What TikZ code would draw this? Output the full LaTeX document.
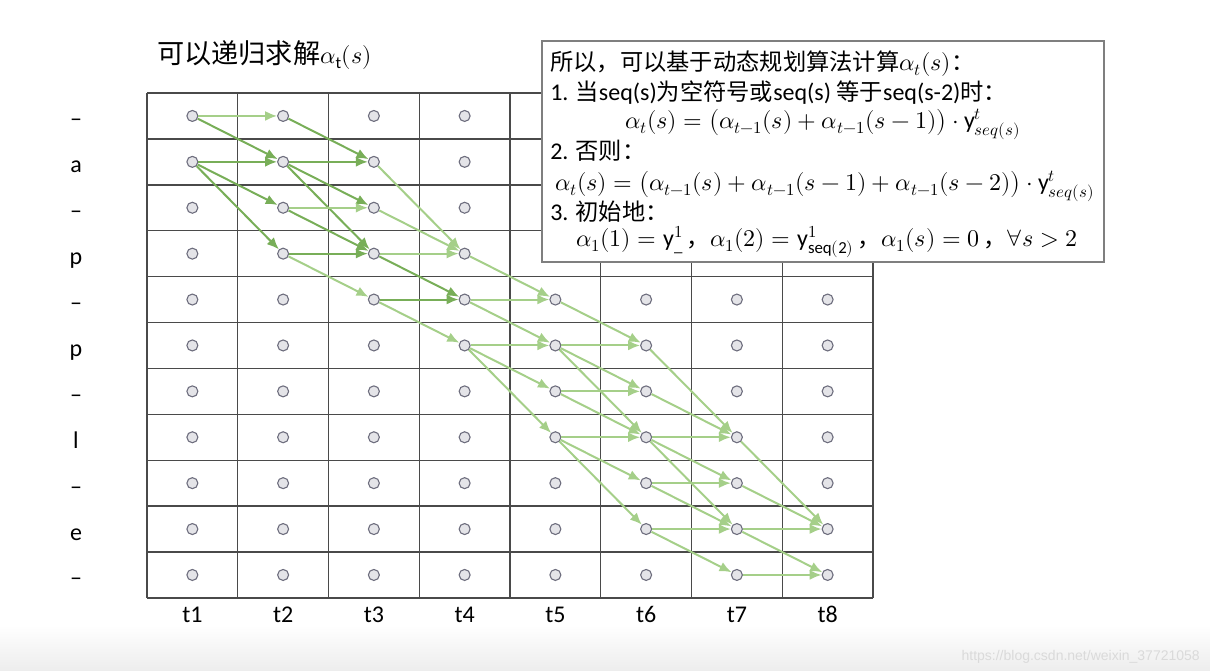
\documentclass[tikz,border=0pt]{standalone}
\usepackage{amsmath}
\usepackage{fontspec}
\usepackage{unicode-math}
\setmainfont{Carlito}
\setmathfont{Latin Modern Math}
\newfontfamily\cjk[Scale=0.97]{Noto Sans CJK SC}
\newfontfamily\markfont{Liberation Sans}
\usetikzlibrary{arrows.meta,positioning,calc}
\definecolor{gridline}{HTML}{4A4A4A}
\definecolor{dotfill}{HTML}{E4E4E8}
\definecolor{dotrim}{HTML}{6E6E7E}
\definecolor{edgedark}{HTML}{78AE58}
\definecolor{edgelight}{HTML}{A5CF89}
\definecolor{boxrim}{HTML}{7F7F7F}
\definecolor{markgray}{HTML}{DADADA}
\tikzset{
    >={Latex[length=12pt,width=10pt]},
    every picture/.style={line width=0.5pt},
    dot/.style={circle,draw=dotrim,fill=dotfill,line width=1.1pt,minimum size=11pt,inner sep=0pt},
    edge1/.style={->,draw=edgedark,line width=2pt},
    edge2/.style={->,draw=edgelight,line width=2pt},
    lbl/.style={font=\fontsize{24}{28}\selectfont,inner sep=0pt,anchor=base},
    txt/.style={font=\fontsize{24}{28}\selectfont,inner sep=0pt,anchor=base west}
}

\begin{document}
\begin{tikzpicture}[x=1pt,y=-1pt]
    \useasboundingbox (0,0) rectangle (1210,670);
    \shade[top color=white,bottom color=black!7] (0,625) rectangle (1210,670);

    % Title
    \node[anchor=base west,inner sep=0pt,font=\fontsize{28}{32}\selectfont] (title) at (157,63)
        {{\cjk 可以递归求解}{\fontsize{24}{28}\selectfont$\alpha_{\mathrm{t}}(s)$}};

    % Grid
    \foreach \i in {0,...,8}
        \draw[gridline,line width=1.4pt] ({147+90.75*\i},93) -- ({147+90.75*\i},598);
    \foreach \j in {0,...,11}
        \draw[gridline,line width=1.4pt] (147,{93+45.9*\j}) -- (873,{93+45.9*\j});

    % States
    \foreach \t in {1,...,8}
        \foreach \s in {1,...,11}
            \node[dot] (n\s-\t) at ({147+90.75*(\t-0.5)},{93+45.9*(\s-0.5)}) {};

    % Labels
    \foreach \l [count=\s] in {–,a,–,p,–,p,–,l,–,e,–}
        \node[lbl] (row\s) at (76,{93+45.9*(\s-0.5)+11}) {\l};
    \foreach \t in {1,...,8}
        \node[lbl] (col\t) at ({147+90.75*(\t-0.5)},622) {t\t};

    % Transitions
    \foreach \s/\t/\u/\v in {1/1/2/2, 2/1/2/2, 2/1/3/2, 2/1/4/2, 1/2/2/3, 2/2/2/3,
            2/2/3/3, 2/2/4/3, 3/2/4/3, 4/2/4/3, 4/3/5/4, 5/3/5/4}
        \draw[edge1] (n\s-\t) -- (n\u-\v);
    \foreach \s/\t/\u/\v in {1/1/1/2, 3/2/3/3, 4/2/5/3, 2/3/4/4, 3/3/4/4, 4/3/4/4,
            5/3/6/4, 4/4/5/5, 5/4/5/5, 5/4/6/5, 6/4/6/5, 6/4/7/5, 6/4/8/5,
            5/5/6/6, 6/5/6/6, 6/5/7/6, 6/5/8/6, 7/5/7/6, 7/5/8/6, 8/5/8/6,
            8/5/9/6, 8/5/10/6, 6/6/8/7, 7/6/8/7, 8/6/8/7, 8/6/9/7, 8/6/10/7,
            9/6/9/7, 9/6/10/7, 10/6/10/7, 10/6/11/7, 8/7/10/8, 9/7/10/8,
            10/7/10/8, 10/7/11/8, 11/7/11/8}
        \draw[edge2] (n\s-\t) -- (n\u-\v);

    % Recursion box
    \node[draw=boxrim,fill=white,line width=1.5pt,minimum width=562pt,minimum height=221pt,
        inner sep=0pt,anchor=north west] (rulebox) at (541,40) {};
    \node[txt] (line1) at (550,70) {{\cjk 所以，可以基于动态规划算法计算}$\alpha_t(s)${\cjk ：}};
    \node[txt] (line2) at (550,100) {1. {\cjk 当}seq(s){\cjk 为空符号或}seq(s) {\cjk 等于}seq(s-2){\cjk 时：}};
    \node[txt] (line3) at (625,128)
        {$\alpha_t(s)=\bigl(\alpha_{t-1}(s)+\alpha_{t-1}(s-1)\bigr)\cdot\mathrm{y}^t_{seq(s)}$};
    \node[txt] (line4) at (550,159) {2. {\cjk 否则：}};
    \node[txt] (line5) at (555,190)
        {$\alpha_t(s)=\bigl(\alpha_{t-1}(s)+\alpha_{t-1}(s-1)+\alpha_{t-1}(s-2)\bigr)\cdot\mathrm{y}^t_{seq(s)}$};
    \node[txt] (line6) at (550,220) {3. {\cjk 初始地：}};
    \node[txt] (line7) at (576,246)
        {$\alpha_1(1)=\mathrm{y}^1_{\_}$\,{\cjk ，}$\alpha_1(2)=\mathrm{y}^1_{\mathrm{seq(2)}}$\,{\cjk ，}$\alpha_1(s)=0$\,{\cjk ，}$\forall s>2$};

    % Watermark
    \node[anchor=base east,inner sep=0pt,text=markgray,font=\markfont\fontsize{14}{16}\selectfont] (mark)
        at (1200,660) {https://blog.csdn.net/weixin\_37721058};
\end{tikzpicture}
\end{document}
